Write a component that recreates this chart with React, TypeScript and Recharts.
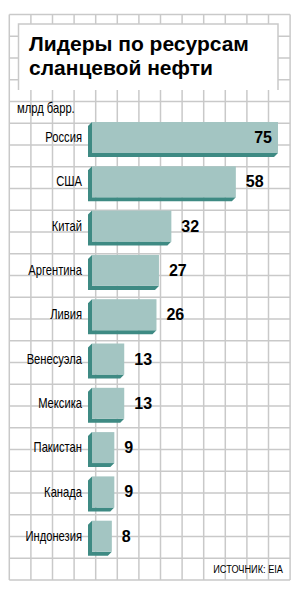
import { Bar, BarChart, LabelList, XAxis, YAxis } from "recharts";

const countries = [
  "Россия",
  "США",
  "Китай",
  "Аргентина",
  "Ливия",
  "Венесуэла",
  "Мексика",
  "Пакистан",
  "Канада",
  "Индонезия",
];
const reserves = [75, 58, 32, 27, 26, 13, 13, 9, 9, 8];
const titleLines = ["Лидеры по ресурсам", "сланцевой нефти"];
const unitLabel = "млрд барр.";
const sourceLabel = "ИСТОЧНИК: EIA";

const data = countries.map((country, i) => ({ country, value: reserves[i] }));

const W = 299;
const H = 593;
const FACE = "#a3c5c2";
const SIDE = "#3e8a83";
const GRID = "#c9c9c9";
const SANS = "'Liberation Sans', Arial, sans-serif";

// background grid: 13 columns x 26 rows
const gridLeft = 9.3;
const gridTop = 14.5;
const cellW = 21.6;
const cellH = 21.75;
const cols = 13;
const rows = 26;

// condensed text: the original uses a narrow face, squeeze a regular one
function Narrow({ x, y, size, anchor = "start", children }: any) {
  return (
    <text
      transform={`translate(${x},${y}) scale(0.8,1)`}
      textAnchor={anchor}
      fontFamily={SANS}
      fontSize={size}
      fill="#000"
    >
      {children}
    </text>
  );
}

function Background() {
  const right = gridLeft + cols * cellW;
  const bottom = gridTop + rows * cellH;
  const v = Array.from({ length: cols + 1 }, (_, i) => gridLeft + i * cellW);
  const h = Array.from({ length: rows + 1 }, (_, i) => gridTop + i * cellH);
  return (
    <svg width={W} height={H} style={{ position: "absolute", left: 0, top: 0 }}>
      <rect x={0} y={0} width={W} height={H} fill="#fff" />
      {v.map((x) => (
        <line key={"v" + x} x1={x} x2={x} y1={gridTop} y2={bottom} stroke={GRID} strokeWidth={1.5} />
      ))}
      {h.map((y) => (
        <line key={"h" + y} x1={gridLeft} x2={right} y1={y} y2={y} stroke={GRID} strokeWidth={1.5} />
      ))}
      <rect x={18.5} y={24} width={259.5} height={66} fill="#fff" />
      <path d="M18.5 90 V24 H278 V90" fill="none" stroke={GRID} strokeWidth={1.5} />
      {titleLines.map((t, i) => (
        <text key={t} x={29} y={51 + i * 24} fontFamily={SANS} fontWeight="bold" fontSize={21} fill="#000">
          {t}
        </text>
      ))}
      <Narrow x={17} y={113} size={14}>
        {unitLabel}
      </Narrow>
      <Narrow x={283} y={573} size={11.5} anchor="end">
        {sourceLabel}
      </Narrow>
    </svg>
  );
}

function CountryTick(props: any) {
  const { x, y, payload } = props;
  return (
    <Narrow x={x} y={y + 5} size={14} anchor="end">
      {payload.value}
    </Narrow>
  );
}

function Block(props: any) {
  const { x, y, width, height } = props;
  const d = 4;
  const side = `M${x} ${y} L${x - d} ${y + d} L${x - d} ${y + height + d} L${x + width - d} ${y + height + d} L${x + width} ${y + height} L${x} ${y + height} Z`;
  return (
    <g>
      <path d={side} fill={SIDE} />
      <rect x={x} y={y} width={width} height={height} fill={FACE} />
    </g>
  );
}

function ValueLabel(props: any) {
  const { x, y, width, height, value } = props;
  const end = x + width;
  const inside = end + 30 > 289;
  return (
    <text
      x={inside ? end - 6 : end + 10}
      y={y + height / 2}
      dy={5.5}
      textAnchor={inside ? "end" : "start"}
      fontFamily={SANS}
      fontWeight="bold"
      fontSize={16}
      fill="#000"
    >
      {value}
    </text>
  );
}

export default function App() {
  return (
    <div style={{ position: "absolute", left: 0, top: 0, width: W, height: H }}>
      <Background />
      <div style={{ position: "absolute", left: 0, top: 0 }}>
        <BarChart
          width={W}
          height={H}
          data={data}
          layout="vertical"
          margin={{ top: 115, right: 21, bottom: 35, left: 0 }}
        >
          <XAxis type="number" domain={[0, 75]} hide />
          <YAxis
            type="category"
            dataKey="country"
            width={92}
            tickLine={false}
            axisLine={false}
            tickSize={0}
            tickMargin={10}
            tick={<CountryTick />}
            interval={0}
          />
          <Bar dataKey="value" barSize={31} shape={<Block />} isAnimationActive={false}>
            <LabelList dataKey="value" content={<ValueLabel />} />
          </Bar>
        </BarChart>
      </div>
    </div>
  );
}
